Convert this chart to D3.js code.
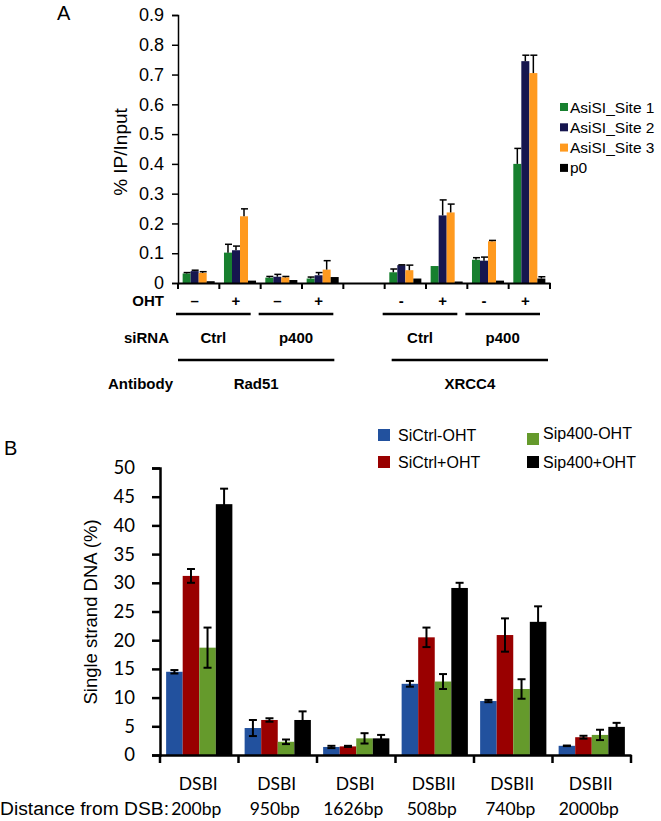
<!DOCTYPE html>
<html><head><meta charset="utf-8">
<script src="https://cdn.jsdelivr.net/npm/d3@7"></script>
<style>body{margin:0;background:#fff} svg{display:block}</style>
</head><body><svg id="c" width="661" height="821"></svg>
<script>
// ---------- Panel A data ----------
const groupsA = ["Rad51 Ctrl -","Rad51 Ctrl +","Rad51 p400 -","Rad51 p400 +","gap","XRCC4 Ctrl -","XRCC4 Ctrl +","XRCC4 p400 -","XRCC4 p400 +"];
const ohtLabels = ["–","+","–","+","","-","+","-","+"];
const seriesA = ["AsiSI_Site 1","AsiSI_Site 2","AsiSI_Site 3","p0"];
const site1    = [0.032,0.102,0.018,0.015,null,0.036,0.057,0.078,0.400];
const site1Err = [0.003,0.028,0.004,0.005,null,0.011,0,0.007,0.052];
const site2    = [0.040,0.110,0.021,0.026,null,0.060,0.227,0.075,0.745];
const site2Err = [0.003,0.014,0.008,0.009,null,0.001,0.052,0.012,0.020];
const site3    = [0.034,0.224,0.019,0.045,null,0.043,0.237,0.140,0.705];
const site3Err = [0.004,0.025,0.003,0.030,null,0.017,0.028,0.003,0.060];
const p0       = [0.006,0.008,0.010,0.020,null,0.015,0.005,0.008,0.015];
const p0Err    = [0,0,0,0,null,0,0,0,0.006];
const sirnaA = [{label:"Ctrl",from:0,to:1},{label:"p400",from:2,to:3},{label:"Ctrl",from:5,to:6},{label:"p400",from:7,to:8}];
const antibodyA = [{label:"Rad51",from:0,to:3},{label:"XRCC4",from:5,to:8}];
const ticksA = [0,0.1,0.2,0.3,0.4,0.5,0.6,0.7,0.8,0.9];

// ---------- Panel B data ----------
const sitesB = ["DSBI","DSBI","DSBI","DSBII","DSBII","DSBII"];
const distB  = ["200bp","950bp","1626bp","508bp","740bp","2000bp"];
const seriesB = ["SiCtrl-OHT","SiCtrl+OHT","Sip400-OHT","Sip400+OHT"];
const siCtrlMinus    = [14.5,4.7,1.4,12.4,9.4,1.6];
const siCtrlMinusErr = [0.3,1.4,0.2,0.5,0.2,0.05];
const siCtrlPlus     = [31.2,6.1,1.5,20.5,20.9,3.1];
const siCtrlPlusErr  = [1.2,0.3,0.1,1.7,2.9,0.25];
const sip400Minus    = [18.7,2.3,2.9,12.8,11.5,3.5];
const sip400MinusErr = [3.5,0.4,0.9,1.3,1.7,0.9];
const sip400Plus     = [43.7,6.1,2.9,29.1,23.2,4.9];
const sip400PlusErr  = [2.7,1.5,0.6,0.9,2.7,0.7];
const ticksB = [0,5,10,15,20,25,30,35,40,45,50];

// ---------- styles ----------
const colorsA = ["#17802f","#16164f","#ff9a1f","#000000"];
const colorsB = ["#22519e","#990000","#659a2c","#000000"];
const arial = "'Liberation Sans', Arial, sans-serif";
const cal = "Lato, 'Open Sans', sans-serif";

const svg = d3.select("#c");

// =============== Panel A ===============
const valsA = [site1,site2,site3,p0];
const errsA = [site1Err,site2Err,site3Err,p0Err];
const xA = d3.scaleBand().domain(d3.range(groupsA.length)).range([178,550]).padding(0);
const xAi = d3.scaleBand().domain(d3.range(seriesA.length)).range([0,xA.bandwidth()]).paddingOuter(0.58).paddingInner(0);
const yA = d3.scaleLinear().domain([0,0.9]).range([283,15]);

svg.append("text").attr("x",57).attr("y",20).attr("font-family",arial).attr("font-size",20).text("A");

const gA = svg.append("g");
seriesA.forEach((s,si)=>{
  const g = gA.append("g").attr("fill",colorsA[si]);
  g.selectAll("rect").data(groupsA.map((d,i)=>({i,v:valsA[si][i],e:errsA[si][i]})).filter(d=>d.v!=null))
   .join("rect")
   .attr("x",d=>xA(d.i)+xAi(si)).attr("width",xAi.bandwidth())
   .attr("y",d=>yA(d.v)).attr("height",d=>yA(0)-yA(d.v));
  const eg = gA.append("g").attr("stroke","#000").attr("stroke-width",1.5);
  groupsA.forEach((d,i)=>{
    const v = valsA[si][i], e = errsA[si][i];
    if (v==null || !e) return;
    const cx = xA(i)+xAi(si)+xAi.bandwidth()/2;
    eg.append("line").attr("x1",cx).attr("x2",cx).attr("y1",yA(v)).attr("y2",yA(v+e));
    eg.append("line").attr("x1",cx-3).attr("x2",cx+4).attr("y1",yA(v+e)).attr("y2",yA(v+e));
  });
});

// y axis A
const axA = svg.append("g").attr("transform","translate(178,0)")
  .call(d3.axisLeft(yA).tickValues(ticksA).tickSize(6).tickPadding(8).tickFormat(d=>d===0?"0":d3.format(".1f")(d)));
axA.select(".domain").attr("stroke-width",1.5);
axA.selectAll(".tick line").attr("stroke-width",1.5);
axA.selectAll("text").attr("font-family",arial).attr("font-size",18).attr("fill","#000");
// x axis A
const xAxA = svg.append("g").attr("transform","translate(0,283)")
  .call(d3.axisBottom(xA).tickValues([]).tickSizeOuter(0));
xAxA.select(".domain").attr("stroke-width",2);
const bndA = d3.range(groupsA.length+1).map(i=> i<groupsA.length ? xA(i) : xA(groupsA.length-1)+xA.bandwidth());
svg.append("g").selectAll("line").data(bndA).join("line")
  .attr("x1",d=>d).attr("x2",d=>d).attr("y1",283).attr("y2",289).attr("stroke","#000").attr("stroke-width",2);

svg.append("text").attr("transform","translate(127,152) rotate(-90)").attr("text-anchor","middle")
  .attr("font-family",arial).attr("font-size",19).text("% IP/Input");

// rows under A
const bold = g => g.attr("font-family",arial).attr("font-weight","bold").attr("font-size",15);
svg.append("text").attr("x",164).attr("y",306).attr("text-anchor","end").call(bold).text("OHT");
svg.append("g").selectAll("text").data(ohtLabels).join("text")
  .attr("x",(d,i)=>xA(i)+xA.bandwidth()/2 - 4).attr("y",306).attr("text-anchor","middle").call(bold).text(d=>d);
const sLine = d => [xA(d.from)-2, xA(d.to)+xA.bandwidth()-10];
svg.append("g").selectAll("line").data(sirnaA).join("line")
  .attr("x1",d=>sLine(d)[0]).attr("x2",d=>sLine(d)[1]).attr("y1",314).attr("y2",314)
  .attr("stroke","#000").attr("stroke-width",2.5);
svg.append("text").attr("x",169).attr("y",343).attr("text-anchor","end").call(bold).text("siRNA");
svg.append("g").selectAll("text").data(sirnaA).join("text")
  .attr("x",d=>(sLine(d)[0]+sLine(d)[1])/2).attr("y",343).attr("text-anchor","middle").call(bold).text(d=>d.label);
const aLine = d => d.from===0 ? [xA(d.from), xA(d.to)+xA.bandwidth()-9] : [xA(d.from)+7, xA(d.to)+xA.bandwidth()-2];
svg.append("g").selectAll("line").data(antibodyA).join("line")
  .attr("x1",d=>aLine(d)[0]).attr("x2",d=>aLine(d)[1]).attr("y1",360).attr("y2",360)
  .attr("stroke","#000").attr("stroke-width",2.5);
svg.append("text").attr("x",173).attr("y",389).attr("text-anchor","end").call(bold).text("Antibody");
svg.append("g").selectAll("text").data(antibodyA).join("text")
  .attr("x",d=>(aLine(d)[0]+aLine(d)[1])/2).attr("y",389).attr("text-anchor","middle").call(bold).text(d=>d.label);

// legend A
const legA = svg.append("g");
seriesA.forEach((s,i)=>{
  const y = 107 + i*20.3;
  legA.append("rect").attr("x",560).attr("y",y-4).attr("width",8).attr("height",8).attr("fill",colorsA[i]);
  legA.append("text").attr("x",570).attr("y",y+5.5).attr("font-family",arial).attr("font-size",15.5).text(s);
});

// =============== Panel B ===============
const valsB = [siCtrlMinus,siCtrlPlus,sip400Minus,sip400Plus];
const errsB = [siCtrlMinusErr,siCtrlPlusErr,sip400MinusErr,sip400PlusErr];
const xB = d3.scaleBand().domain(d3.range(distB.length)).range([160,631]).padding(0);
const xBi = d3.scaleBand().domain(d3.range(seriesB.length)).range([0,xB.bandwidth()]).paddingOuter(0.37).paddingInner(0);
const yB = d3.scaleLinear().domain([0,50]).range([755,468]);

svg.append("text").attr("x",4).attr("y",455).attr("font-family",arial).attr("font-size",20).text("B");

seriesB.forEach((s,si)=>{
  svg.append("g").attr("fill",colorsB[si]).selectAll("rect")
   .data(valsB[si].map((v,i)=>({i,v}))).join("rect")
   .attr("x",d=>xB(d.i)+xBi(si)).attr("width",xBi.bandwidth())
   .attr("y",d=>yB(d.v)).attr("height",d=>yB(0)-yB(d.v));
});
seriesB.forEach((s,si)=>{
  const eg = svg.append("g").attr("stroke","#000").attr("stroke-width",2);
  valsB[si].forEach((v,i)=>{
    const e = errsB[si][i];
    const cx = xB(i)+xBi(si)+xBi.bandwidth()/2;
    eg.append("line").attr("x1",cx).attr("x2",cx).attr("y1",yB(v-e)).attr("y2",yB(v+e));
    eg.append("line").attr("x1",cx-4).attr("x2",cx+4).attr("y1",yB(v+e)).attr("y2",yB(v+e));
    eg.append("line").attr("x1",cx-4).attr("x2",cx+4).attr("y1",yB(v-e)).attr("y2",yB(v-e));
  });
});

const axB = svg.append("g").attr("transform","translate(160,0)")
  .call(d3.axisLeft(yB).tickValues(ticksB).tickSize(8).tickPadding(17));
axB.select(".domain").attr("stroke-width",2.5);
axB.selectAll(".tick line").attr("stroke-width",2.5);
axB.selectAll("text").attr("font-family",cal).attr("font-size",18.5).attr("fill","#000");
const xAxB = svg.append("g").attr("transform","translate(0,755)")
  .call(d3.axisBottom(xB).tickValues([]).tickSizeOuter(0));
xAxB.select(".domain").attr("stroke-width",2.5);
const bndB = d3.range(distB.length+1).map(i=> i<distB.length ? xB(i) : xB(distB.length-1)+xB.bandwidth());
svg.append("g").selectAll("line").data(bndB).join("line")
  .attr("x1",d=>d).attr("x2",d=>d).attr("y1",755).attr("y2",763).attr("stroke","#000").attr("stroke-width",2.5);

svg.append("text").attr("transform","translate(97,612) rotate(-90)").attr("text-anchor","middle")
  .attr("font-family",arial).attr("font-size",18.5).text("Single strand DNA (%)");

svg.append("g").selectAll("text").data(sitesB).join("text")
  .attr("x",(d,i)=>xB(i)+xB.bandwidth()/2 - 1).attr("y",790).attr("text-anchor","middle")
  .attr("font-family",cal).attr("font-size",17.5).text(d=>d);
svg.append("g").selectAll("text").data(distB).join("text")
  .attr("x",(d,i)=>xB(i)+xB.bandwidth()/2 - 3).attr("y",815).attr("text-anchor","middle")
  .attr("font-family",cal).attr("font-size",17.5).text(d=>d);
svg.append("text").attr("x",0).attr("y",815).attr("font-family",arial).attr("font-size",18)
  .attr("textLength",169).attr("lengthAdjust","spacingAndGlyphs")
  .text("Distance from DSB:");

// legend B
const legPos = [[378,435],[378,462],[527,439],[527,462]];
const legTxt = [[398,435],[398,462],[543,433],[543,462]];
seriesB.forEach((s,i)=>{
  svg.append("rect").attr("x",legPos[i][0]).attr("y",legPos[i][1]-6).attr("width",12).attr("height",12).attr("fill",colorsB[i]);
  svg.append("text").attr("x",legTxt[i][0]).attr("y",legTxt[i][1]+6).attr("font-family",arial).attr("font-size",16).text(s);
});
</script></body></html>
